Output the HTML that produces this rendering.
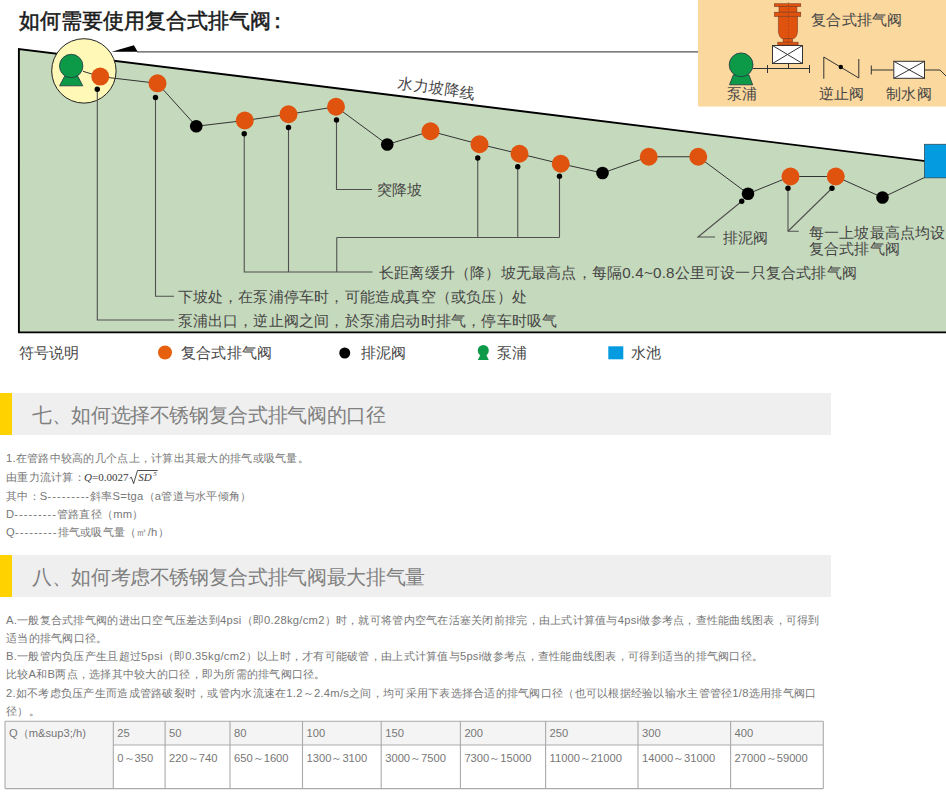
<!DOCTYPE html>
<html><head><meta charset="utf-8">
<style>
html,body{margin:0;padding:0;background:#fff;width:946px;height:800px;overflow:hidden;position:relative;font-family:"Liberation Sans",sans-serif;}
.abs{position:absolute;white-space:nowrap;}
#title{left:19px;top:6.5px;font-size:21px;color:#1a1a1a;line-height:28px;-webkit-text-stroke:0.5px #1a1a1a;}
svg{position:absolute;left:0;top:0;}
.dt{position:absolute;white-space:nowrap;line-height:20px;color:#464646;letter-spacing:0.2px;}
.sec{position:absolute;left:0;width:831px;height:42px;background:#efefef;}
.sec .bar{position:absolute;left:0;top:0;width:12px;height:100%;background:#ffd200;}
.sec .t{position:absolute;left:32px;top:0.5px;line-height:42px;font-size:19.5px;letter-spacing:-0.36px;color:#808080;white-space:nowrap;}
.p{position:absolute;left:6px;font-size:11.2px;color:#777;letter-spacing:0.27px;white-space:nowrap;line-height:18px;}
.tc{position:absolute;font-size:11.2px;color:#777;letter-spacing:0px;white-space:nowrap;line-height:16px;}
.d{letter-spacing:1px;}
.f{position:absolute;font-family:"Liberation Serif",serif;font-size:11px;color:#3a3a3a;line-height:18px;white-space:nowrap;}
.f5{position:absolute;font-family:"Liberation Serif",serif;font-size:7px;color:#3a3a3a;line-height:12px;font-style:italic;}
</style></head><body>
<div id="title" class="abs">如何需要使用复合式排气阀<span style="margin-left:-4px">：</span></div>
<svg width="946" height="380" viewBox="0 0 946 380">
<rect x="698" y="0" width="248" height="106.5" fill="#fbd89d"/>
<line x1="137" y1="51.8" x2="698" y2="51.8" stroke="#555" stroke-width="1.2"/>
<polygon points="111.7,51.8 133.9,45.2 137.7,51.8" fill="#000"/>
<polygon points="18.9,49 946,163.6 946,332.4 18.9,332.4" fill="#c5d9bc"/>
<polyline points="946,163.6 18.9,49 18.9,332.4 946,332.4" fill="none" stroke="#000" stroke-width="1.9"/>
<circle cx="83.9" cy="70.9" r="32.2" fill="#fff8b6" stroke="#222" stroke-width="1"/>
<polyline points="83,71.3 100.25,76.6 157.5,83.3 196.25,126.25 244.75,120.5 288.5,114.25 336,106.75 387.25,144.5 430.5,131.25 479.5,144.25 519.5,153.75 560.75,163.75 602.5,173 648.75,156.75 698.25,156.75 748,193.75 790.5,176.5 835.75,176.5 882.5,197.5 924.5,177.5" fill="none" stroke="#333" stroke-width="1"/>
<path d="M97.3,89 V320 H174" fill="none" stroke="#505050" stroke-width="1.1"/>
<path d="M155.5,97.5 V296.25 H174" fill="none" stroke="#505050" stroke-width="1.1"/>
<path d="M244.25,133.75 V272 H372.5" fill="none" stroke="#505050" stroke-width="1.1"/>
<path d="M288.5,127.5 V272" fill="none" stroke="#505050" stroke-width="1.1"/>
<path d="M336.75,237.5 V272" fill="none" stroke="#505050" stroke-width="1.1"/>
<path d="M336.75,237.5 H559.5" fill="none" stroke="#505050" stroke-width="1.1"/>
<path d="M477.75,158 V237.5" fill="none" stroke="#505050" stroke-width="1.1"/>
<path d="M517.75,166.75 V237.5" fill="none" stroke="#505050" stroke-width="1.1"/>
<path d="M559.5,176.25 V237.5" fill="none" stroke="#505050" stroke-width="1.1"/>
<path d="M336.5,120 V189.5 H372" fill="none" stroke="#505050" stroke-width="1.1"/>
<path d="M741.75,201.25 L698,237 H715" fill="none" stroke="#505050" stroke-width="1.1"/>
<path d="M788,188.25 V231.25 H798.75" fill="none" stroke="#505050" stroke-width="1.1"/>
<path d="M832,188.25 L788,231.25" fill="none" stroke="#505050" stroke-width="1.1"/>
<polygon points="64.55,76.3 77.85000000000001,76.3 82.8,85.8 59.6,85.8" fill="#0d9a48" stroke="#234" stroke-width="0.8"/><circle cx="71.2" cy="66" r="11.7" fill="#0d9a48" stroke="#234" stroke-width="0.8"/>
<circle cx="100.25" cy="76.6" r="9" fill="#e0530f"/>
<circle cx="157.5" cy="83.3" r="9" fill="#e0530f"/>
<circle cx="244.75" cy="120.5" r="9" fill="#e0530f"/>
<circle cx="288.5" cy="114.25" r="9" fill="#e0530f"/>
<circle cx="336" cy="106.75" r="9" fill="#e0530f"/>
<circle cx="430.5" cy="131.25" r="9" fill="#e0530f"/>
<circle cx="479.5" cy="144.25" r="9" fill="#e0530f"/>
<circle cx="519.5" cy="153.75" r="9" fill="#e0530f"/>
<circle cx="560.75" cy="163.75" r="9" fill="#e0530f"/>
<circle cx="648.75" cy="156.75" r="9" fill="#e0530f"/>
<circle cx="698.25" cy="156.75" r="9" fill="#e0530f"/>
<circle cx="790.5" cy="176.5" r="9" fill="#e0530f"/>
<circle cx="835.75" cy="176.5" r="9" fill="#e0530f"/>
<circle cx="196.25" cy="126.25" r="6.3" fill="#000"/>
<circle cx="387.25" cy="144.5" r="6.3" fill="#000"/>
<circle cx="602.5" cy="173" r="6.3" fill="#000"/>
<circle cx="748" cy="193.75" r="6.3" fill="#000"/>
<circle cx="882.5" cy="197.5" r="6.3" fill="#000"/>
<circle cx="97.3" cy="89.2" r="2.7" fill="#000"/>
<circle cx="155.5" cy="97.5" r="2.7" fill="#000"/>
<circle cx="244.25" cy="133.75" r="2.7" fill="#000"/>
<circle cx="288.5" cy="127.5" r="2.7" fill="#000"/>
<circle cx="336.5" cy="120" r="2.7" fill="#000"/>
<circle cx="477.75" cy="158" r="2.7" fill="#000"/>
<circle cx="517.75" cy="166.75" r="2.7" fill="#000"/>
<circle cx="559.5" cy="176.25" r="2.7" fill="#000"/>
<circle cx="788" cy="188.25" r="2.7" fill="#000"/>
<circle cx="832" cy="188.25" r="2.7" fill="#000"/>
<circle cx="741.75" cy="201.25" r="2.7" fill="#000"/>
<rect x="924.3" y="144.2" width="23" height="33.7" fill="#059be0" stroke="#333" stroke-width="0.6"/>
<polygon points="733.3000000000001,74.9 748.9,74.9 752.7,84.8 729.5,84.8" fill="#0d9a48" stroke="#234" stroke-width="0.8"/><circle cx="741.1" cy="64.8" r="11.9" fill="#0d9a48" stroke="#234" stroke-width="0.8"/>
<path d="M753,68.5 H810 M767.5,65 V73 M809.5,65 V73 M788.5,63.6 V68.5" fill="none" stroke="#333" stroke-width="1"/>
<rect x="772.5" y="45.5" width="30" height="18" fill="#fff" stroke="#333" stroke-width="1"/><path d="M772.5,45.5 L802.5,63.5 M802.5,45.5 L772.5,63.5" stroke="#333" stroke-width="1"/>
<g fill="#e0530f" stroke="#7a3a20" stroke-width="0.6"><rect x="779" y="6.56" width="17.9" height="5.64"/><rect x="774.4" y="3.75" width="26.35" height="2.8"/><rect x="774.4" y="12.2" width="26.35" height="4.2"/><path d="M778.4,16.4 V30 C778.4,36 781,38.75 783.1,38.75 H792.5 C795,38.75 797.5,36 797.5,30 V16.4 Z"/><rect x="783.1" y="38.75" width="9.4" height="3.45"/><rect x="777.8" y="42.2" width="20.3" height="2.8"/></g>
<line x1="788.4" y1="2" x2="788.4" y2="45" stroke="#7a3a20" stroke-width="0.5" stroke-dasharray="1.5,1.5"/>
<path d="M823.8,78.8 V57 L858.8,78 V59" fill="none" stroke="#333" stroke-width="1"/><circle cx="840.8" cy="67" r="2.2" fill="#000"/>
<path d="M871.3,65.5 V74.5 M871.3,70 H893.8 M924.5,70 H940 L946,76" fill="none" stroke="#333" stroke-width="1"/>
<rect x="893.8" y="61.3" width="30.7" height="17" fill="#fff" stroke="#333" stroke-width="1"/><path d="M893.8,61.3 L924.5,78.3 M924.5,61.3 L893.8,78.3" stroke="#333" stroke-width="1"/>
<circle cx="165" cy="352.5" r="7" fill="#e6600d"/>
<circle cx="344.75" cy="353" r="5.5" fill="#000"/>
<polygon points="480.3,355 486.3,355 488.8,360 477.8,360" fill="#0d9a48" stroke="#234" stroke-width="0"/><circle cx="483.3" cy="350.5" r="5.5" fill="#0d9a48" stroke="#234" stroke-width="0"/>
<rect x="608.3" y="346.3" width="15" height="13" fill="#059be0"/>
</svg>
<div class="dt" style="left:177.5px;top:311px;font-size:15.2px">泵浦出口，逆止阀之间，於泵浦启动时排气，停车时吸气</div>
<div class="dt" style="left:177.5px;top:287px;font-size:15.2px">下坡处，在泵浦停车时，可能造成真空（或负压）处</div>
<div class="dt" style="left:379px;top:262.5px;font-size:15.2px">长距离缓升（降）坡无最高点，每隔0.4~0.8公里可设一只复合式排气阀</div>
<div class="dt" style="left:376.5px;top:179.5px;font-size:15.2px">突降坡</div>
<div class="dt" style="left:723px;top:227.5px;font-size:15.2px">排泥阀</div>
<div class="dt" style="left:808.75px;top:222.5px;font-size:15.2px">每一上坡最高点均设</div>
<div class="dt" style="left:808.75px;top:238.75px;font-size:15.2px">复合式排气阀</div>
<div class="dt" style="left:811.25px;top:10px;font-size:15.2px">复合式排气阀</div>
<div class="dt" style="left:727px;top:84.3px;font-size:15.2px">泵浦</div>
<div class="dt" style="left:818.75px;top:84.3px;font-size:15.2px">逆止阀</div>
<div class="dt" style="left:886.25px;top:84.3px;font-size:15.2px">制水阀</div>
<div class="dt" style="left:18.75px;top:342.5px;font-size:15.2px">符号说明</div>
<div class="dt" style="left:181px;top:342.5px;font-size:15.2px">复合式排气阀</div>
<div class="dt" style="left:361px;top:342.5px;font-size:15.2px">排泥阀</div>
<div class="dt" style="left:497px;top:342.5px;font-size:15.2px">泵浦</div>
<div class="dt" style="left:630.75px;top:342.5px;font-size:15.2px">水池</div>
<div class="dt" style="left:398px;top:73.2px;font-size:15.2px;letter-spacing:0.6px;transform-origin:0 50%;transform:rotate(8deg)">水力坡降线</div>
<div class="sec" style="top:393px"><div class="bar"></div><div class="t">七、如何选择不锈钢复合式排气阀的口径</div></div>
<div class="p" style="top:449px">1.在管路中较高的几个点上，计算出其最大的排气或吸气量。</div>
<div class="p" style="top:468px">由重力流计算：</div>
<div class="f" style="left:84px;top:468px"><i>Q</i>=0.0027</div><div class="f" style="left:138.2px;top:468px"><i>SD</i></div><div class="f5" style="left:153.2px;top:468px">5</div>
<svg style="left:0;top:0" width="200" height="500"><path d="M129.7,478.3 L131.3,477.2 L133.6,483.6 L137.5,470.5 H157.7" fill="none" stroke="#222" stroke-width="0.8"/></svg>
<div class="p" style="top:487px">其中：S<span class="d">---------</span>斜率S=tga（a管道与水平倾角）</div>
<div class="p" style="top:505px">D<span class="d">---------</span>管路直径（mm）</div>
<div class="p" style="top:523px">Q<span class="d">---------</span>排气或吸气量（㎡/h）</div>
<div class="sec" style="top:555px"><div class="bar"></div><div class="t">八、如何考虑不锈钢复合式排气阀最大排气量</div></div>
<div class="p" style="top:611px">A.一般复合式排气阀的进出口空气压差达到4psi（即0.28kg/cm2）时，就可将管内空气在活塞关闭前排完，由上式计算值与4psi做参考点，查性能曲线图表，可得到</div>
<div class="p" style="top:629px">适当的排气阀口径。</div>
<div class="p" style="top:647px">B.一般管内负压产生且超过5psi（即0.35kg/cm2）以上时，才有可能破管，由上式计算值与5psi做参考点，查性能曲线图表，可得到适当的排气阀口径。</div>
<div class="p" style="top:665px">比较A和B两点，选择其中较大的口径，即为所需的排气阀口径。</div>
<div class="p" style="top:684px">2.如不考虑负压产生而造成管路破裂时，或管内水流速在1.2～2.4m/s之间，均可采用下表选择合适的排气阀口径（也可以根据经验以输水主管管径1/8选用排气阀口</div>
<div class="p" style="top:702px">径）。</div>
<svg style="top:0;left:0" width="946" height="800" viewBox="0 0 946 800">
<rect x="5" y="721.3" width="818.3" height="23.700000000000045" fill="#f4f4f4"/>
<rect x="5" y="721.3" width="108.3" height="67.30000000000007" fill="#f4f4f4"/>
<path d="M5,721.3 H823.3 M5,788.6 H823.3 M113.3,745 H823.3 M5,721.3 V788.6 M113.3,721.3 V788.6 M165.1,721.3 V788.6 M230,721.3 V788.6 M302.5,721.3 V788.6 M381.2,721.3 V788.6 M460.4,721.3 V788.6 M545.6,721.3 V788.6 M638,721.3 V788.6 M730.6,721.3 V788.6 M823.3,721.3 V788.6 " fill="none" stroke="#aaaaaa" stroke-width="1.1"/>
</svg>
<div class="tc" style="left:9px;top:725.3px">Q（m&amp;sup3;/h)</div>
<div class="tc" style="left:117.3px;top:725.3px">25</div>
<div class="tc" style="left:117.3px;top:750px">0～350</div>
<div class="tc" style="left:169.1px;top:725.3px">50</div>
<div class="tc" style="left:169.1px;top:750px">220～740</div>
<div class="tc" style="left:234px;top:725.3px">80</div>
<div class="tc" style="left:234px;top:750px">650～1600</div>
<div class="tc" style="left:306.5px;top:725.3px">100</div>
<div class="tc" style="left:306.5px;top:750px">1300～3100</div>
<div class="tc" style="left:385.2px;top:725.3px">150</div>
<div class="tc" style="left:385.2px;top:750px">3000～7500</div>
<div class="tc" style="left:464.4px;top:725.3px">200</div>
<div class="tc" style="left:464.4px;top:750px">7300～15000</div>
<div class="tc" style="left:549.6px;top:725.3px">250</div>
<div class="tc" style="left:549.6px;top:750px">11000～21000</div>
<div class="tc" style="left:642px;top:725.3px">300</div>
<div class="tc" style="left:642px;top:750px">14000～31000</div>
<div class="tc" style="left:734.6px;top:725.3px">400</div>
<div class="tc" style="left:734.6px;top:750px">27000～59000</div>
</body></html>
